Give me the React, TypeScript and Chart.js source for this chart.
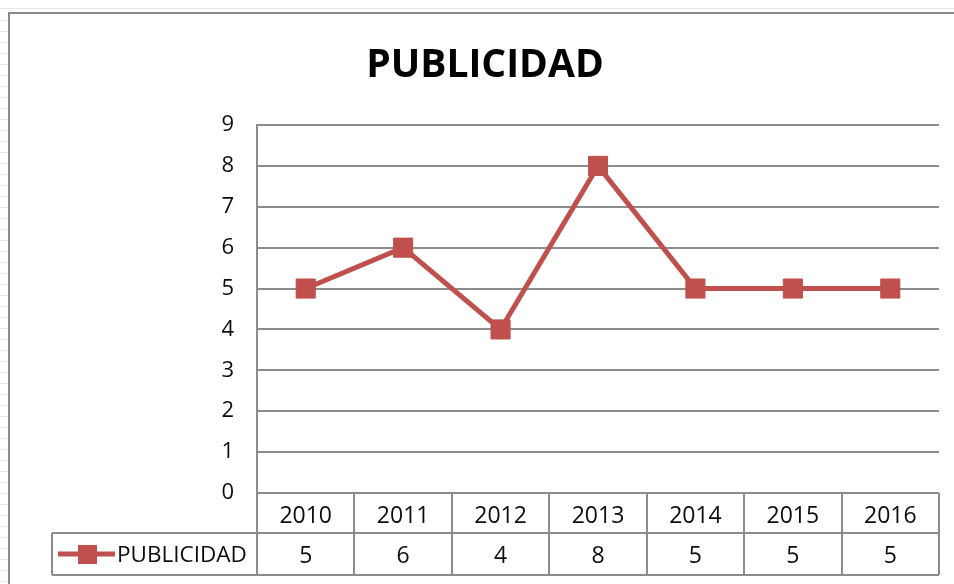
import React, { useEffect, useRef } from "react";
import { Chart, registerables } from "chart.js";

Chart.register(...registerables);

const title = "PUBLICIDAD";
const seriesName = "PUBLICIDAD";
const years = ["2010", "2011", "2012", "2013", "2014", "2015", "2016"];
const publicidad = [5, 6, 4, 8, 5, 5, 5];
const yMin = 0;
const yMax = 9;
const yStep = 1;

const RED = "#C0504D";
const GRID = "#8c8c8c";
const TEXT = "#0d0d0d";
const FONT = "'Open Sans', 'DejaVu Sans', sans-serif";

const framePlugin = {
  id: "frame",
  beforeDraw(chart: any) {
    const ctx = chart.ctx;
    ctx.save();
    ctx.fillStyle = "#ffffff";
    ctx.fillRect(0, 0, chart.width, chart.height);
    // faint spreadsheet lines behind the chart
    ctx.strokeStyle = "#e4e6ee";
    ctx.lineWidth = 1;
    ctx.beginPath();
    ctx.moveTo(0, 8.5);
    ctx.lineTo(chart.width, 8.5);
    for (let y = 20.5; y < chart.height; y += 11) {
      ctx.moveTo(0, y);
      ctx.lineTo(7, y);
    }
    ctx.stroke();
    // chart frame
    ctx.strokeStyle = "#8a8a8a";
    ctx.lineWidth = 2;
    ctx.beginPath();
    ctx.moveTo(9, chart.height + 2);
    ctx.lineTo(9, 13);
    ctx.lineTo(chart.width + 2, 13);
    ctx.stroke();
    ctx.restore();
  },
  afterDraw(chart: any) {
    const ctx = chart.ctx;
    const xs = chart.scales.x;
    const area = chart.chartArea;
    const labels: string[] = chart.data.labels;
    const values: number[] = chart.data.datasets[0].data;
    const n = labels.length;
    const w = (xs.right - xs.left) / n;
    const top = area.bottom;
    const mid = top + 40;
    const bot = top + 82;
    const legLeft = 52;

    ctx.save();
    // title
    ctx.fillStyle = "#000";
    ctx.font = `bold 39px ${FONT}`;
    ctx.textAlign = "center";
    ctx.textBaseline = "alphabetic";
    ctx.fillText(title, 485, 77);

    // data table lines
    ctx.strokeStyle = GRID;
    ctx.lineWidth = 2;
    ctx.beginPath();
    ctx.moveTo(xs.left, top);
    ctx.lineTo(xs.right, top);
    ctx.moveTo(legLeft, mid);
    ctx.lineTo(xs.right, mid);
    ctx.moveTo(legLeft, bot);
    ctx.lineTo(xs.right, bot);
    ctx.moveTo(legLeft, mid);
    ctx.lineTo(legLeft, bot);
    for (let i = 0; i <= n; i++) {
      const x = Math.round(xs.left + i * w);
      ctx.moveTo(x, top);
      ctx.lineTo(x, bot);
    }
    ctx.stroke();

    // table text
    ctx.fillStyle = TEXT;
    ctx.font = `500 23px ${FONT}`;
    ctx.textAlign = "center";
    for (let i = 0; i < n; i++) {
      const cx = xs.getPixelForValue(i);
      ctx.fillText(labels[i], cx, top + 30);
      ctx.fillText(String(values[i]), cx, mid + 30);
    }

    // legend key
    const ly = mid + 21;
    ctx.strokeStyle = RED;
    ctx.lineWidth = 5;
    ctx.beginPath();
    ctx.moveTo(58, ly);
    ctx.lineTo(115, ly);
    ctx.stroke();
    ctx.fillStyle = RED;
    ctx.fillRect(78, ly - 9, 19, 19);
    ctx.fillStyle = TEXT;
    ctx.textAlign = "left";
    ctx.font = `500 22.5px ${FONT}`;
    ctx.fillText(seriesName, 117, mid + 29);
    ctx.restore();
  },
};

export default function App() {
  const ref = useRef<HTMLCanvasElement | null>(null);
  useEffect(() => {
    if (!ref.current) return;
    const chart = new Chart(ref.current, {
      type: "line",
      data: {
        labels: years,
        datasets: [
          {
            label: seriesName,
            data: publicidad,
            borderColor: RED,
            backgroundColor: RED,
            borderWidth: 5,
            pointStyle: "rect",
            pointRadius: 13.5,
            pointBorderWidth: 1,
            pointBackgroundColor: RED,
            pointBorderColor: RED,
            tension: 0,
          },
        ],
      },
      options: {
        responsive: false,
        animation: false,
        devicePixelRatio: 1,
        layout: { padding: { left: 217, top: 125, right: 15, bottom: 91 } },
        plugins: {
          legend: { display: false },
          title: { display: false },
          tooltip: { enabled: false },
        },
        scales: {
          x: {
            type: "category",
            offset: true,
            grid: { display: false, drawTicks: false },
            border: { display: false },
            ticks: { display: false },
            afterFit: (s: any) => {
              s.height = 0;
            },
          },
          y: {
            min: yMin,
            max: yMax,
            ticks: {
              stepSize: yStep,
              padding: 23,
              color: TEXT,
              font: { family: FONT, size: 22, weight: "500" },
            },
            grid: { color: GRID, lineWidth: 2, drawTicks: false },
            border: { display: true, color: GRID, width: 2 },
            afterFit: (s: any) => {
              s.width = 40;
            },
          },
        },
      },
      plugins: [framePlugin],
    });
    return () => chart.destroy();
  }, []);
  return (
    <div style={{ position: "absolute", left: 0, top: 0, width: 954, height: 584 }}>
      <canvas ref={ref} width={954} height={584} style={{ display: "block" }} />
    </div>
  );
}
